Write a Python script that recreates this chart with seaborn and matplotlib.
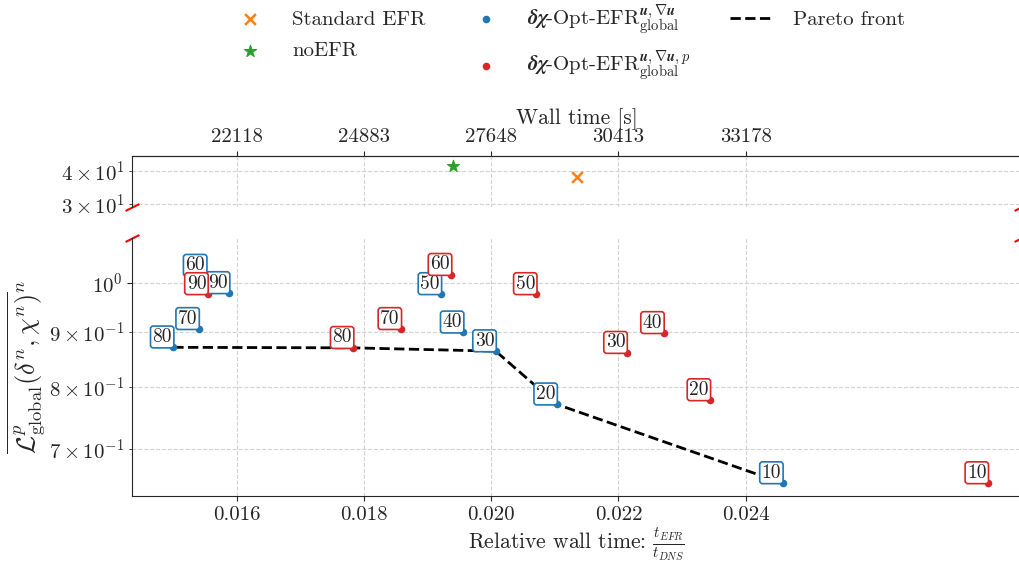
import numpy as np
import pandas as pd
import matplotlib
matplotlib.use("Agg")
import matplotlib.pyplot as plt
import seaborn as sns

# filter parameter shown in the boxes
labels = [10, 20, 30, 40, 50, 60, 70, 80, 90]

# delta-chi Opt-EFR (u, grad u)
blue_x = [0.02458, 0.02103, 0.02007, 0.01956, 0.01921, 0.01552, 0.01540, 0.01500, 0.01588]
blue_y = [0.6498, 0.7700, 0.8635, 0.8992, 0.9767, 1.0160, 0.9059, 0.8707, 0.9788]

# delta-chi Opt-EFR (u, grad u, p)
red_x = [0.02781, 0.02344, 0.02213, 0.02271, 0.02071, 0.01937, 0.01858, 0.01783, 0.01554]
red_y = [0.6498, 0.7771, 0.8605, 0.8981, 0.9767, 1.0180, 0.9059, 0.8697, 0.9767]

std_efr_x = [0.02135]
std_efr_y = [37.78]
noefr_x = [0.01940]
noefr_y = [41.77]

# pareto front: (series, label)
pareto = [("blue", 80), ("red", 80), ("blue", 30), ("blue", 20), ("blue", 10)]

# relative time -> wall time [s]
t_dns = 1382400
wall_ticks = [22118, 24883, 27648, 30413, 33178]

sns.set_style("ticks")
plt.rcParams["font.family"] = "serif"
plt.rcParams["font.serif"] = ["cmr10", "DejaVu Serif"]
plt.rcParams["mathtext.fontset"] = "cm"
plt.rcParams["axes.formatter.use_mathtext"] = True
plt.rcParams["axes.unicode_minus"] = False
plt.rcParams["font.size"] = 15

df_blue = pd.DataFrame({"x": blue_x, "y": blue_y, "lab": labels})
df_red = pd.DataFrame({"x": red_x, "y": red_y, "lab": labels})
src = {"blue": df_blue, "red": df_red}
df_par = pd.DataFrame([src[s].set_index("lab").loc[l] for s, l in pareto])

fig = plt.figure(figsize=(10.2, 5.64), dpi=100)
ax_top = fig.add_axes([0.1294, 0.633, 0.8716, 0.0904])
ax_bot = fig.add_axes([0.1294, 0.1206, 0.8716, 0.4574], sharex=ax_top)

c_blue, c_red = "tab:blue", "tab:red"
lbl_blue = r"$\boldsymbol{\delta\chi}$-Opt-EFR$^{\boldsymbol{u},\nabla\boldsymbol{u}}_{\rm global}$"
lbl_red = r"$\boldsymbol{\delta\chi}$-Opt-EFR$^{\boldsymbol{u},\nabla\boldsymbol{u},p}_{\rm global}$"

# top panel
sns.scatterplot(x=std_efr_x, y=std_efr_y, ax=ax_top, marker="x", s=60, color="tab:orange",
                linewidth=1.8, label="Standard EFR", legend=False)
sns.scatterplot(x=noefr_x, y=noefr_y, ax=ax_top, marker="*", s=80, color="tab:green",
                linewidth=0.8, edgecolor="tab:green", label="noEFR", legend=False)

# bottom panel
sns.lineplot(data=df_par, x="x", y="y", ax=ax_bot, color="black", linestyle="--", linewidth=2,
             sort=False, label="Pareto front", legend=False, zorder=1)
sns.scatterplot(data=df_blue, x="x", y="y", ax=ax_bot, color=c_blue, s=30, linewidth=0,
                label=lbl_blue, legend=False, zorder=2)
sns.scatterplot(data=df_red, x="x", y="y", ax=ax_bot, color=c_red, s=30, linewidth=0,
                label=lbl_red, legend=False, zorder=2)

for df, col in [(df_blue, c_blue), (df_red, c_red)]:
    for _, r in df.iterrows():
        ax_bot.annotate(str(int(r["lab"])), xy=(r["x"], r["y"]), xytext=(-1, 1),
                        textcoords="offset points", ha="right", va="bottom", fontsize=14,
                        bbox=dict(boxstyle="round,pad=0.1,rounding_size=0.15", fc="white",
                                  ec=col, lw=1.2))

for ax in (ax_top, ax_bot):
    ax.set_yscale("log")
    ax.grid(True, which="both", linestyle="--", color="lightgray", linewidth=0.8)
    ax.set_xlabel("")
    ax.set_ylabel("")

ax_bot.set_xlim(0.01435, 0.02833)
ax_bot.set_xticks([0.016, 0.018, 0.020, 0.022, 0.024])
ax_bot.xaxis.set_major_formatter(matplotlib.ticker.FormatStrFormatter("%.3f"))
ax_top.set_ylim(29.23, 45.4)
ax_bot.set_ylim(0.632, 1.102)

ax_top.spines["bottom"].set_visible(False)
ax_top.spines["right"].set_visible(False)
ax_bot.spines["top"].set_visible(False)
ax_bot.spines["right"].set_visible(False)
ax_top.tick_params(axis="x", bottom=False, labelbottom=False, top=False)

sec = ax_top.secondary_xaxis("top", functions=(lambda x: x * t_dns, lambda x: x / t_dns))
sec.set_xticks(wall_ticks)
sec.set_xticklabels([str(w) for w in wall_ticks])
sec.set_xlabel("Wall time [s]", fontsize=15.5, labelpad=3)

ax_bot.set_xlabel(r"Relative wall time: $\frac{t_{EFR}}{t_{DNS}}$", fontsize=15.5, labelpad=1)
ax_bot.set_ylabel(r"$\overline{\mathcal{L}^{p}_{\rm global}(\delta^{n},\chi^{n})}^{n}$",
                  fontsize=19, labelpad=2)

# break marks
d = 0.5
kw = dict(marker=[(-1, -d), (1, d)], markersize=10, linestyle="none", color="r", mec="r",
          mew=1.5, clip_on=False)
ax_top.plot([0, 1], [0, 0], transform=ax_top.transAxes, **kw)
ax_bot.plot([0, 1], [1, 1], transform=ax_bot.transAxes, **kw)

h1, l1 = ax_top.get_legend_handles_labels()
h2, l2 = ax_bot.get_legend_handles_labels()
hd = dict(zip(l1 + l2, h1 + h2))
order = ["Standard EFR", "noEFR", lbl_blue, lbl_red, "Pareto front"]
fig.legend([hd[k] for k in order], order, loc="upper center", bbox_to_anchor=(0.556, 1.03),
           ncol=3, frameon=False, fontsize=15, columnspacing=1.9, handlelength=2.0,
           handletextpad=1.0, labelspacing=0.6)

fig.savefig("out.png", dpi=100)
